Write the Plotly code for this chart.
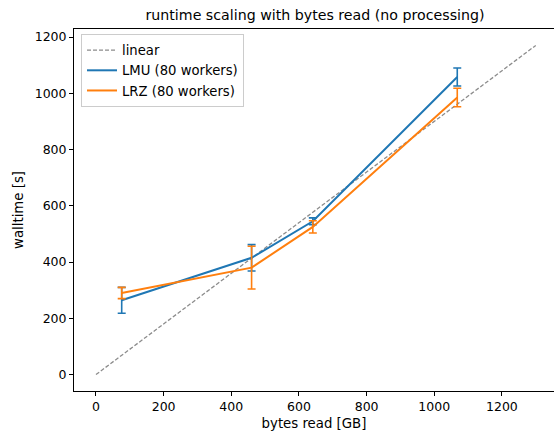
import plotly.graph_objects as go

# data
bytes_read = [76, 460, 641, 1068]
lmu_walltime = [264, 415, 545, 1058]
lmu_err = [46, 47, 12, 32]
lrz_walltime = [290, 380, 525, 985]
lrz_err = [20, 76, 22, 33]
linear_x = [0, 1300]
linear_y = [0, 1170]

BLUE = "#1f77b4"
ORANGE = "#ff7f0e"
FONT = "DejaVu Sans"

fig = go.Figure()
fig.add_trace(go.Scatter(
    x=linear_x, y=linear_y, mode="lines", name="linear",
    line=dict(color="#8c8c8c", width=1.3, dash="4px,2px"),
))
fig.add_trace(go.Scatter(
    x=bytes_read, y=lmu_walltime, mode="lines", name="LMU (80 workers)",
    line=dict(color=BLUE, width=2),
    error_y=dict(type="data", array=lmu_err, visible=True, color=BLUE, thickness=1.6, width=4),
))
fig.add_trace(go.Scatter(
    x=bytes_read, y=lrz_walltime, mode="lines", name="LRZ (80 workers)",
    line=dict(color=ORANGE, width=2),
    error_y=dict(type="data", array=lrz_err, visible=True, color=ORANGE, thickness=1.6, width=4),
))

axis_common = dict(
    showgrid=False, zeroline=False, showline=True, linecolor="black", linewidth=1,
    ticks="outside", ticklen=4, tickwidth=1, tickcolor="black",
    tickfont=dict(family=FONT, size=12.5, color="black"),
)

fig.update_layout(
    width=554, height=431,
    margin=dict(l=74, r=0, t=29, b=40),
    plot_bgcolor="white", paper_bgcolor="white",
    font=dict(family=FONT, size=12.5, color="black"),
    title=dict(text="runtime scaling with bytes read (no processing)",
               x=315 / 554, xref="container", xanchor="center",
               y=1 - 15 / 431, yref="container", yanchor="middle",
               font=dict(family=FONT, size=14.2, color="black")),
    xaxis=dict(range=[-65, 1354], tickvals=[0, 200, 400, 600, 800, 1000, 1200],
               mirror=True,
               title=dict(text="bytes read [GB]", font=dict(family=FONT, size=13.3), standoff=5),
               **axis_common),
    yaxis=dict(range=[-58.5, 1228.5], tickvals=[0, 200, 400, 600, 800, 1000, 1200],
               title=dict(text="walltime [s]", font=dict(family=FONT, size=13.3), standoff=8),
               **axis_common),
    legend=dict(x=0.0146, y=0.986, xanchor="left", yanchor="top",
                bgcolor="rgba(255,255,255,0.8)", bordercolor="#cccccc", borderwidth=1,
                font=dict(family=FONT, size=13.2), tracegroupgap=0, itemwidth=30),
    showlegend=True,
)

fig.write_html("out.html")
